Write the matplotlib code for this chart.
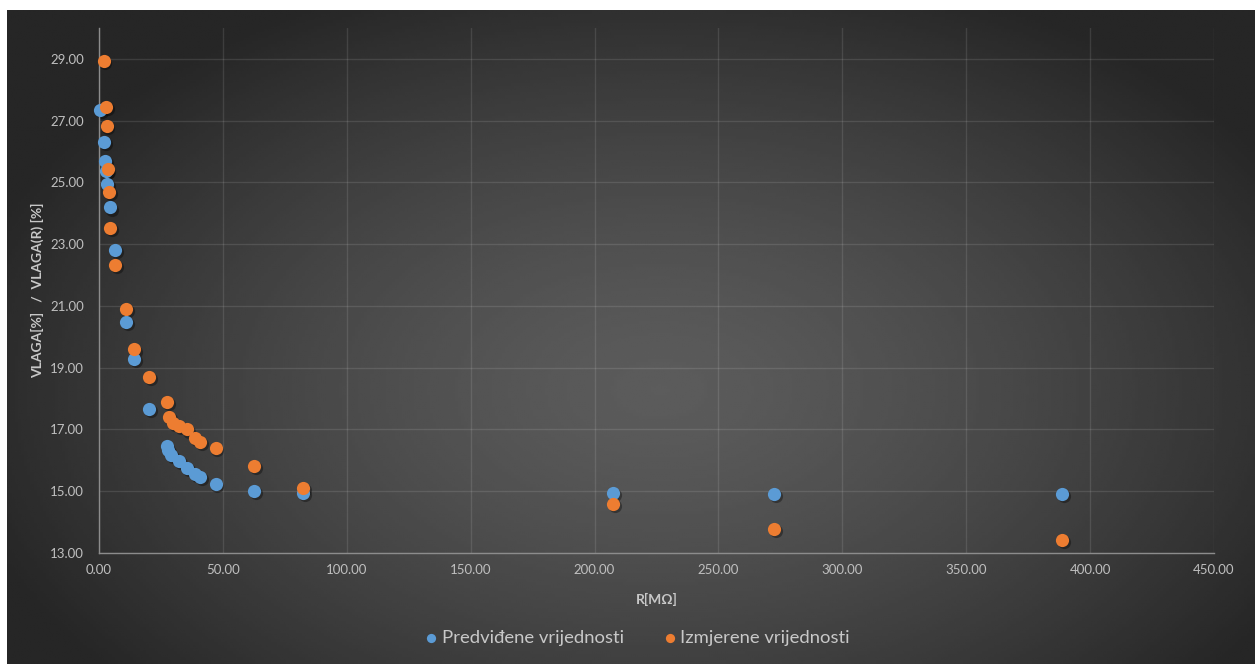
import numpy as np
import matplotlib.pyplot as plt
from matplotlib.transforms import offset_copy

plt.rcParams['font.family'] = ['Lato', 'DejaVu Sans']

# R [MOhm] and humidity values
r_pred = [0.4, 2.0, 2.5, 2.8, 3.4, 4.6, 6.6, 10.9, 14.1, 20.3, 27.3, 27.9, 29.0,
          32.3, 35.6, 38.7, 40.8, 47.1, 62.5, 82.3, 207.6, 272.4, 388.6]
vlaga_pred = [27.34, 26.30, 25.68, 25.37, 24.96, 24.19, 22.81, 20.49, 19.27, 17.65,
              16.46, 16.33, 16.17, 15.98, 15.74, 15.55, 15.46, 15.24, 15.00, 14.94,
              14.93, 14.91, 14.91]

r_meas = [1.9, 2.8, 3.1, 3.5, 4.0, 4.6, 6.6, 10.9, 14.1, 20.3, 27.6, 28.4, 30.0,
          32.3, 35.6, 38.7, 40.8, 47.1, 62.5, 82.3, 207.6, 272.4, 388.6]
vlaga_meas = [28.93, 27.43, 26.83, 25.42, 24.70, 23.52, 22.32, 20.90, 19.59, 18.69,
              17.90, 17.41, 17.21, 17.10, 17.00, 16.73, 16.60, 16.40, 15.81, 15.10,
              14.60, 13.79, 13.42]

x_ticks = np.arange(0, 451, 50)
y_ticks = np.arange(13, 30, 2)

W, H = 1255, 664
fig = plt.figure(figsize=(W / 100, H / 100), dpi=100, facecolor='white')

# dark radial gradient background (chart area starts a few px in from top/left)
bg = fig.add_axes([7 / W, 0, 1 - 7 / W, 654 / H])
bg.set_axis_off()
gx, gy = np.meshgrid(np.linspace(7, W, 400), np.linspace(10, H, 220))
rr = np.sqrt(((gx - 660) / 720) ** 2 + ((gy - 390) / 440) ** 2)
rr = np.clip(rr, 0, 1)
shade = 0.36 - (0.36 - 0.15) * rr ** 1.4
bg.imshow(shade, cmap='gray', vmin=0, vmax=1, aspect='auto',
          extent=[0, 1, 0, 1], interpolation='bilinear')
bg.set_xlim(0, 1)
bg.set_ylim(0, 1)

ax = fig.add_axes([99 / W, (H - 553) / H, (1214 - 99) / W, (553 - 28) / H])
ax.set_facecolor('none')
ax.set_xlim(0, 450)
ax.set_ylim(13, 30)
ax.set_xticks(x_ticks)
ax.set_yticks(y_ticks)
ax.set_xticklabels([f'{v:.2f}' for v in x_ticks])
ax.set_yticklabels([f'{v:.2f}' for v in y_ticks])
ax.grid(True, color='white', alpha=0.11, linewidth=1)
ax.set_axisbelow(True)
for s in ['top', 'right']:
    ax.spines[s].set_visible(False)
for s in ['left', 'bottom']:
    ax.spines[s].set_color('#8c8c8c')
    ax.spines[s].set_linewidth(1)
ax.tick_params(length=0, colors='#bfbfbf', labelsize=9.5)
ax.tick_params(axis='y', pad=11)
ax.tick_params(axis='x', pad=8)

shadow = offset_copy(ax.transData, fig=fig, x=1.2, y=-1.5, units='points')
ax.scatter(r_pred, vlaga_pred, s=90, color='black', alpha=0.35, lw=0,
           transform=shadow, zorder=2, clip_on=False)
ax.scatter(r_meas, vlaga_meas, s=90, color='black', alpha=0.35, lw=0,
           transform=shadow, zorder=2, clip_on=False)
ax.scatter(r_pred, vlaga_pred, s=90, color='#5b9bd5', lw=0, zorder=3,
           label='Predviđene vrijednosti', clip_on=False)
ax.scatter(r_meas, vlaga_meas, s=90, color='#ed7d31', lw=0, zorder=4,
           label='Izmjerene vrijednosti', clip_on=False)

ax.set_xlabel('R[MΩ]', color='#c8c8c8', fontsize=10, fontweight='bold', labelpad=12)
ax.set_ylabel('VLAGA[%]   /  VLAGA(R) [%]', color='#c8c8c8', fontsize=10,
              fontweight='bold', labelpad=4)

fig.legend(loc='center', bbox_to_anchor=(636 / W, 1 - 638 / H), ncol=2,
           frameon=False, fontsize=13.3, labelcolor='#c8c8c8', markerscale=0.7,
           handletextpad=0.05, columnspacing=2.0, handlelength=1.0)

fig.savefig('out.png', dpi=100, facecolor='white')
